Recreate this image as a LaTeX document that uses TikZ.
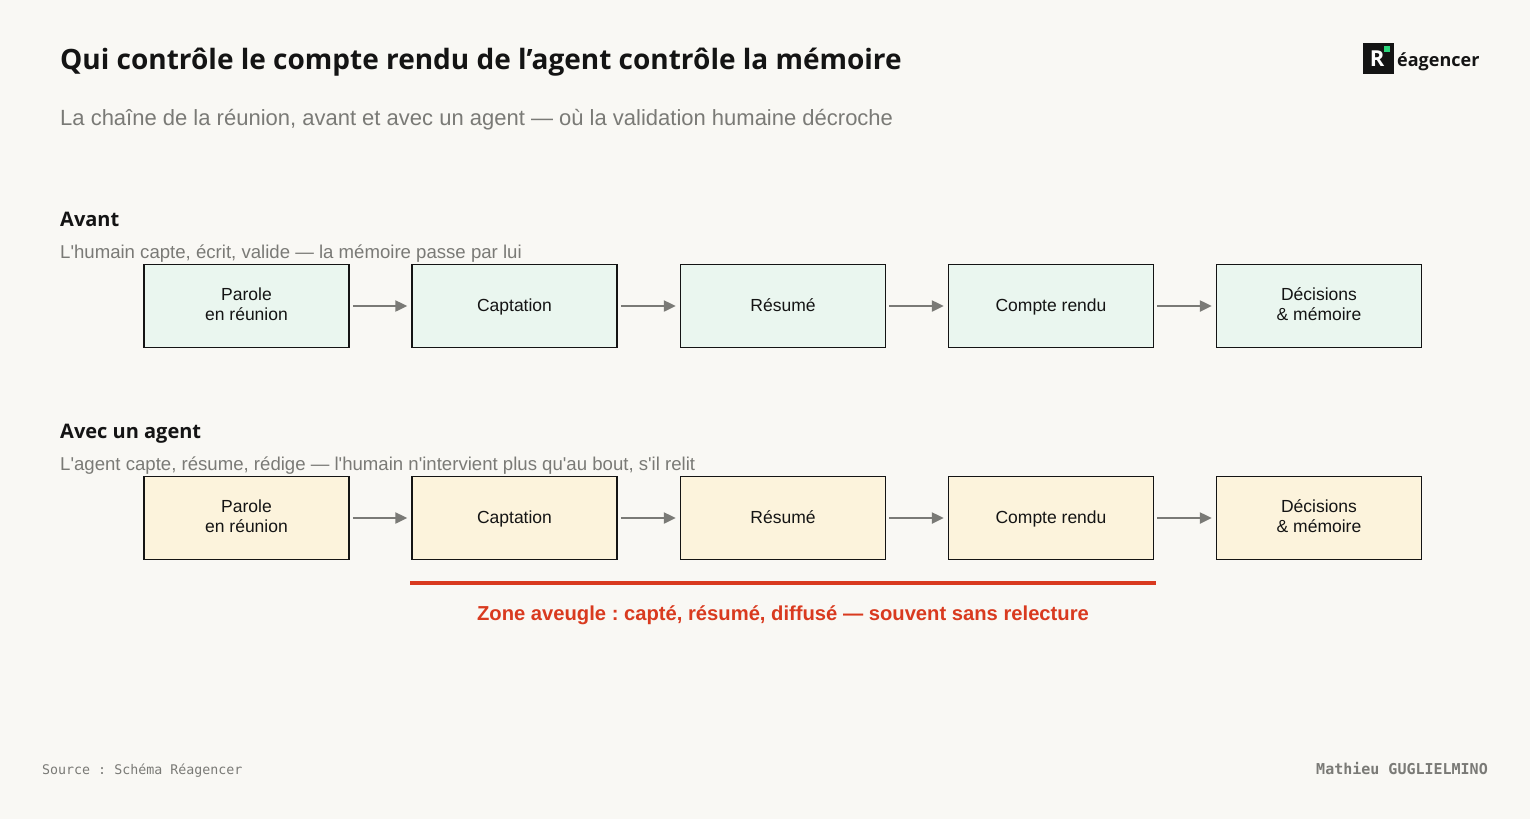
\documentclass[tikz,border=0pt]{standalone}
\usepackage{fontspec}
\setmainfont{Liberation Sans}[Mapping=]
\newfontfamily\titlefont{Open Sans}
\newfontfamily\monofont{DejaVu Sans Mono}
\usetikzlibrary{arrows.meta}
\definecolor{bgpaper}{HTML}{F9F8F4}
\definecolor{greyText}{HTML}{7A7A76}
\definecolor{greenBox}{HTML}{EAF6EF}
\definecolor{yellowBox}{HTML}{FCF3DC}
\definecolor{zoneRed}{HTML}{D93A1F}
\definecolor{logoGreen}{HTML}{2BD67B}
\definecolor{inkDark}{HTML}{141414}
\begin{document}
\frenchspacing
\begin{tikzpicture}
[x=1pt,y=-1pt,
  stepBox/.style={draw=inkDark,line width=1.5pt,minimum width=205pt,minimum height=83pt,
    inner sep=0pt,align=center,font=\fontsize{17.5}{20}\selectfont,text=inkDark},
  stepArrow/.style={-{Triangle[length=12pt,width=11pt]},draw=greyText,line width=2.4pt,shorten <=3pt,shorten >=4pt},
  headText/.style={anchor=base west,inner sep=0pt,font=\titlefont\bfseries\fontsize{20}{24}\selectfont,text=inkDark},
  noteText/.style={anchor=base west,inner sep=0pt,font=\fontsize{18.6}{20}\selectfont,text=greyText}]
\fill[bgpaper] (0,0) rectangle (1530,819);
\useasboundingbox (0,0) rectangle (1530,819);
%% title and logo
\node (title) [anchor=base west,inner sep=0pt,font=\titlefont\bfseries\fontsize{28}{30}\selectfont,text=inkDark]
  at (60,69) {Qui contrôle le compte rendu de l’agent contrôle la mémoire};
\node (subtitle) [anchor=base west,inner sep=0pt,font=\fontsize{22}{24}\selectfont,text=greyText]
  at (60,125) {La chaîne de la réunion, avant et avec un agent — où la validation humaine décroche};
\fill[inkDark] (1363,43) rectangle (1394,74);
\fill[logoGreen] (1384,46) rectangle (1390,52);
\node (logoR) [text=white,font=\titlefont\bfseries\fontsize{22}{24}\selectfont,inner sep=0pt] at (1377,59) {R};
\node (logo) [anchor=base west,inner sep=0pt,font=\titlefont\bfseries\fontsize{18}{20}\selectfont,text=inkDark]
  at (1397,66) {éagencer};
%% rows of steps
\foreach \row/\y/\fillcol/\head/\note in {
  a/306/greenBox/Avant/{L'humain capte, écrit, valide — la mémoire passe par lui},
  b/518/yellowBox/Avec un agent/{L'agent capte, résume, rédige — l'humain n'intervient plus qu'au bout, s'il relit}}
{
  \node (head\row) [headText] at (60,\y-80) {\head};
  \node (note\row) [noteText] at (60,\y-48) {\note};
  \foreach \i/\x/\label in {1/246.5/{Parole\\en réunion}, 2/514.5/Captation, 3/783/Résumé,
    4/1051/Compte rendu, 5/1319/{Décisions\\\& mémoire}}
  {
    \node (\row\i) [stepBox,fill=\fillcol] at (\x,\y) {\label\vphantom{Ép}};
  }
  \foreach \s/\e in {1/2, 2/3, 3/4, 4/5}
  {
    \draw[stepArrow] (\row\s.east) -- (\row\e.west);
  }
}
%% blind zone
\coordinate (zoneL) at (410,583);
\coordinate (zoneR) at (1156,583);
\draw[zoneRed,line width=4pt] (zoneL) -- (zoneR);
\node (zone) [text=zoneRed,font=\bfseries\fontsize{20.2}{22}\selectfont,inner sep=0pt] at (783,615)
  {Zone aveugle : capté, résumé, diffusé — souvent sans relecture};
%% footer
\node (source) [anchor=base west,inner sep=0pt,font=\monofont\fontsize{13.3}{15}\selectfont,text=greyText]
  at (42,774) {Source : Schéma Réagencer};
\node (author) [anchor=base east,inner sep=0pt,font=\monofont\bfseries\fontsize{15}{15}\selectfont,text=greyText]
  at (1488,774) {Mathieu GUGLIELMINO};
\end{tikzpicture}
\end{document}
